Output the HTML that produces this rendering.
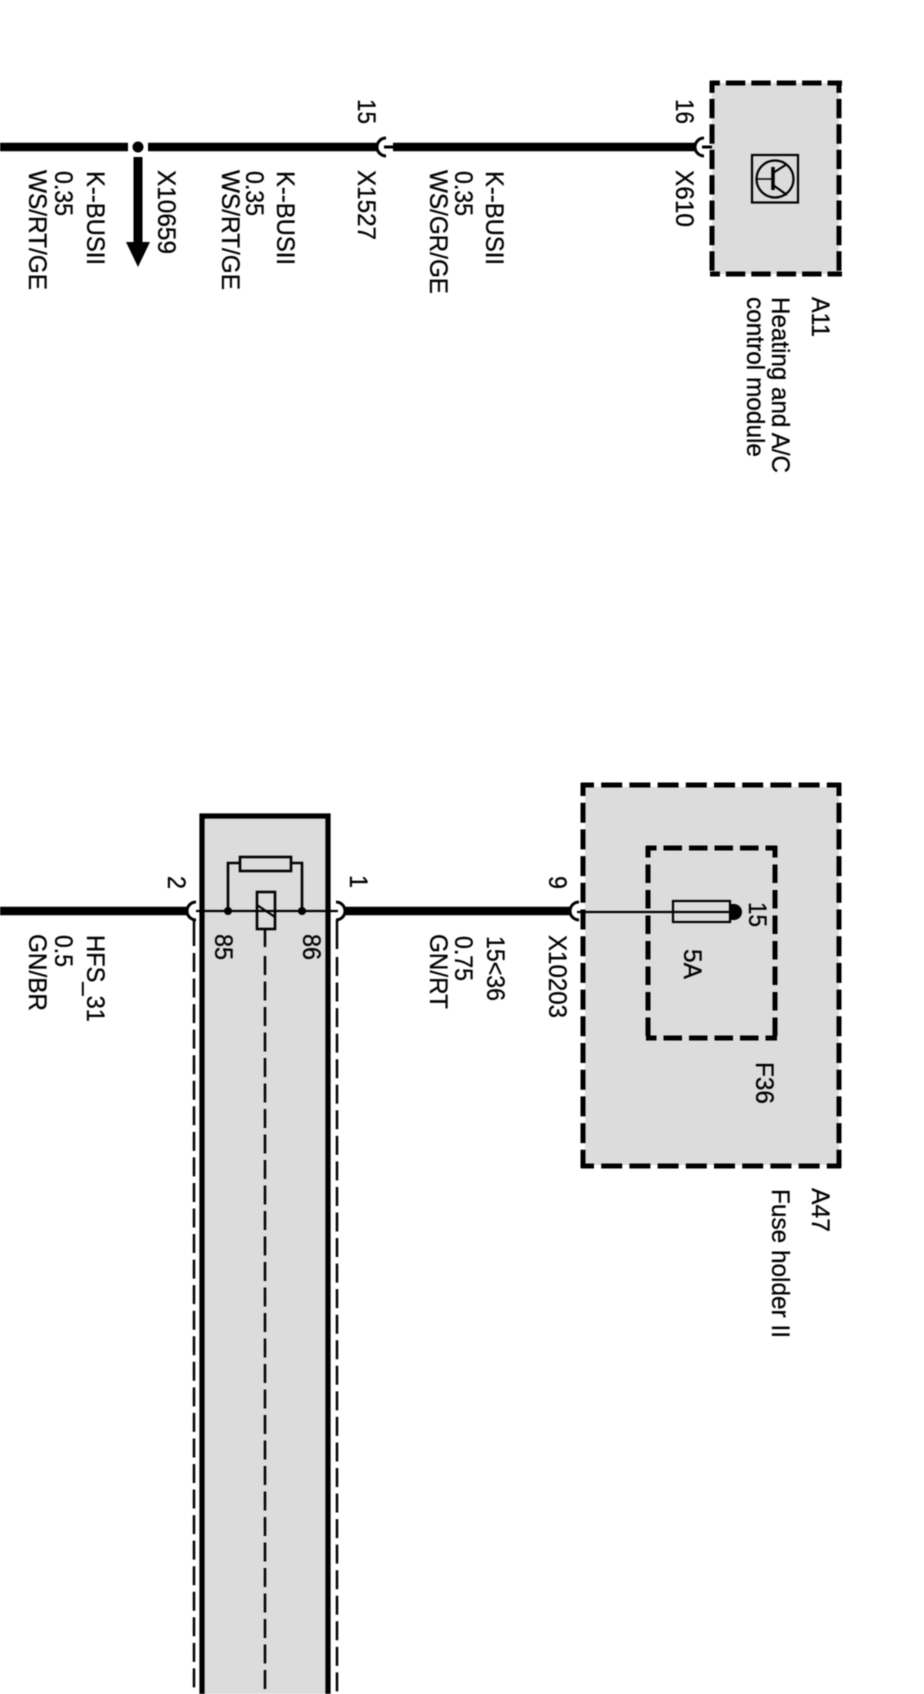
<!DOCTYPE html>
<html><head><meta charset="utf-8"><style>
html,body{margin:0;padding:0;background:#fff;width:924px;height:1694px;overflow:hidden}
svg{display:block;filter:blur(.45px)}
text{font-family:"Liberation Sans",sans-serif;font-size:25px;fill:#000;stroke:#000;stroke-width:.3px}
</style></head><body>
<svg width="924" height="1694" viewBox="0 0 924 1694" xmlns="http://www.w3.org/2000/svg">
<rect width="924" height="1694" fill="#fff"/>
<!-- grey fills -->
<rect x="712" y="83" width="127" height="191" fill="#dcdcdc"/>
<rect x="585" y="787" width="254" height="378" fill="#dcdcdc"/>
<rect x="202" y="816" width="126" height="878" fill="#dcdcdc"/>
<g fill="none" stroke="#000">
<!-- top wire -->
<path d="M0 147H128M148 147H378M393 147H696" stroke-width="8.5"/>
<circle cx="138" cy="147" r="5.5" fill="#000" stroke="none"/>
<path d="M138 157V244" stroke-width="9"/>
<path d="M126 242H150L138 267Z" fill="#000" stroke="none"/>
<path d="M386 138A9 9 0 0 0 386 156M384 147H393" stroke-width="3"/>
<path d="M704 138A9 9 0 0 0 704 156M702 147H712" stroke-width="3"/>
<!-- A11 box -->
<g stroke-width="5">
<path d="M710 83H842" stroke-dasharray="19.4 6" stroke-dashoffset="9.5"/>
<path d="M710 274H842" stroke-dasharray="19.4 6" stroke-dashoffset="9.5"/>
<path d="M712 81V276" stroke-dasharray="19.4 6" stroke-dashoffset="7.5"/>
<path d="M839 81V276" stroke-dasharray="19.4 6" stroke-dashoffset="7.5"/>
</g>
<!-- transistor icon -->
<rect x="752" y="155" width="46" height="47.5" stroke-width="2.2"/>
<circle cx="775" cy="179" r="18.5" stroke-width="2.2"/>
<path d="M757 179H772" stroke-width="1.5"/>
<path d="M773 167V190" stroke-width="3.5"/>
<path d="M773 173L787 164M773 185L787 195" stroke-width="2.2"/>
<!-- A47 boxes -->
<g stroke-width="5">
<path d="M581 785H841" stroke-dasharray="21 7.2" stroke-dashoffset="8"/>
<path d="M581 1166H841" stroke-dasharray="21 7.2" stroke-dashoffset="8"/>
<path d="M583 783V1168" stroke-dasharray="20 6.7" stroke-dashoffset="7"/>
<path d="M839 783V1168" stroke-dasharray="20 6.7" stroke-dashoffset="7"/>
<path d="M646 848H777" stroke-dasharray="18.5 7" stroke-dashoffset="8"/>
<path d="M646 1038H777" stroke-dasharray="18.5 7" stroke-dashoffset="8"/>
<path d="M648 846V1040" stroke-dasharray="18.5 7" stroke-dashoffset="7"/>
<path d="M775 846V1040" stroke-dasharray="18.5 7" stroke-dashoffset="7"/>
</g>
<!-- fuse -->
<path d="M577 912H730" stroke-width="2.2"/>
<rect x="673" y="901" width="57" height="21" stroke-width="2.2"/>
<path d="M730 904H734A7.5 7.5 0 0 1 734 920H730Z" fill="#000" stroke="none"/>
<path d="M579 902A9 9 0 0 0 579 920" stroke-width="3"/>
<!-- relay box -->
<path d="M202 1694V816H328V1694" stroke-width="5.2"/>
<!-- wires -->
<path d="M0 911H188M344 911H571" stroke-width="8.5"/>
<path d="M196 902A9 9 0 0 0 196 920M336 902A9 9 0 0 1 336 920" stroke-width="3"/>
<path d="M196 911H338" stroke-width="2.2"/>
<circle cx="228" cy="911" r="4" fill="#000" stroke="none"/>
<circle cx="302" cy="911" r="4" fill="#000" stroke="none"/>
<path d="M228 911V863H240M291 863H302V911" stroke-width="2.6"/>
<rect x="240" y="857" width="51" height="14" stroke-width="2.6"/>
<rect x="257" y="892" width="18" height="37" stroke-width="2.6"/>
<path d="M257 905L275 917" stroke-width="2.2"/>
<!-- dashed lines -->
<g stroke-width="2.5">
<path d="M194 920V946"/>
<path d="M194 953V1694" stroke-dasharray="19 6.55"/>
<path d="M337 920V949"/>
<path d="M337 957V1694" stroke-dasharray="19 6.55"/>
<path d="M265 929V947"/>
<path d="M265 956V1694" stroke-dasharray="19 6.5"/>
</g>
</g>
<!-- top labels -->
<text transform="translate(87,171) rotate(90)" textLength="94" lengthAdjust="spacingAndGlyphs">K--BUSII</text>
<text transform="translate(55,171) rotate(90)" textLength="45" lengthAdjust="spacingAndGlyphs">0.35</text>
<text transform="translate(29,170) rotate(90)" textLength="120" lengthAdjust="spacingAndGlyphs">WS/RT/GE</text>
<text transform="translate(158,170) rotate(90)" textLength="84" lengthAdjust="spacingAndGlyphs">X10659</text>
<text transform="translate(277,171) rotate(90)" textLength="94" lengthAdjust="spacingAndGlyphs">K--BUSII</text>
<text transform="translate(246,171) rotate(90)" textLength="45" lengthAdjust="spacingAndGlyphs">0.35</text>
<text transform="translate(222,170) rotate(90)" textLength="120" lengthAdjust="spacingAndGlyphs">WS/RT/GE</text>
<text transform="translate(358,170) rotate(90)" textLength="70" lengthAdjust="spacingAndGlyphs">X1527</text>
<text transform="translate(358,99) rotate(90)" textLength="25" lengthAdjust="spacingAndGlyphs">15</text>
<text transform="translate(486,171) rotate(90)" textLength="94" lengthAdjust="spacingAndGlyphs">K--BUSII</text>
<text transform="translate(455,171) rotate(90)" textLength="45" lengthAdjust="spacingAndGlyphs">0.35</text>
<text transform="translate(430,170) rotate(90)" textLength="124" lengthAdjust="spacingAndGlyphs">WS/GR/GE</text>
<text transform="translate(676,99) rotate(90)" textLength="25" lengthAdjust="spacingAndGlyphs">16</text>
<text transform="translate(676,170) rotate(90)" textLength="57" lengthAdjust="spacingAndGlyphs">X610</text>
<text transform="translate(812,297) rotate(90)" textLength="40" lengthAdjust="spacingAndGlyphs">A11</text>
<text transform="translate(772,297) rotate(90)" textLength="176" lengthAdjust="spacingAndGlyphs">Heating and A/C</text>
<text transform="translate(747,297) rotate(90)" textLength="160" lengthAdjust="spacingAndGlyphs">control module</text>
<!-- lower labels -->
<text transform="translate(168,876) rotate(90)" textLength="13" lengthAdjust="spacingAndGlyphs">2</text>
<text transform="translate(350,875) rotate(90)" textLength="13" lengthAdjust="spacingAndGlyphs">1</text>
<text transform="translate(215,934) rotate(90)" textLength="26" lengthAdjust="spacingAndGlyphs">85</text>
<text transform="translate(303,934) rotate(90)" textLength="26" lengthAdjust="spacingAndGlyphs">86</text>
<text transform="translate(87,935) rotate(90)" textLength="87" lengthAdjust="spacingAndGlyphs">HFS_31</text>
<text transform="translate(55,935) rotate(90)" textLength="32" lengthAdjust="spacingAndGlyphs">0.5</text>
<text transform="translate(29,934) rotate(90)" textLength="77" lengthAdjust="spacingAndGlyphs">GN/BR</text>
<text transform="translate(487,936) rotate(90)" textLength="65" lengthAdjust="spacingAndGlyphs">15&lt;36</text>
<text transform="translate(455,936) rotate(90)" textLength="45" lengthAdjust="spacingAndGlyphs">0.75</text>
<text transform="translate(430,934) rotate(90)" textLength="75" lengthAdjust="spacingAndGlyphs">GN/RT</text>
<text transform="translate(549,876) rotate(90)" textLength="13" lengthAdjust="spacingAndGlyphs">9</text>
<text transform="translate(549,935) rotate(90)" textLength="83" lengthAdjust="spacingAndGlyphs">X10203</text>
<text transform="translate(749,902) rotate(90)" textLength="25" lengthAdjust="spacingAndGlyphs">15</text>
<text transform="translate(684,949) rotate(90)" textLength="30" lengthAdjust="spacingAndGlyphs">5A</text>
<text transform="translate(756,1062) rotate(90)" textLength="42" lengthAdjust="spacingAndGlyphs">F36</text>
<text transform="translate(812,1188) rotate(90)" textLength="44" lengthAdjust="spacingAndGlyphs">A47</text>
<text transform="translate(772,1189) rotate(90)" textLength="149" lengthAdjust="spacingAndGlyphs">Fuse holder II</text>
</svg>
</body></html>
